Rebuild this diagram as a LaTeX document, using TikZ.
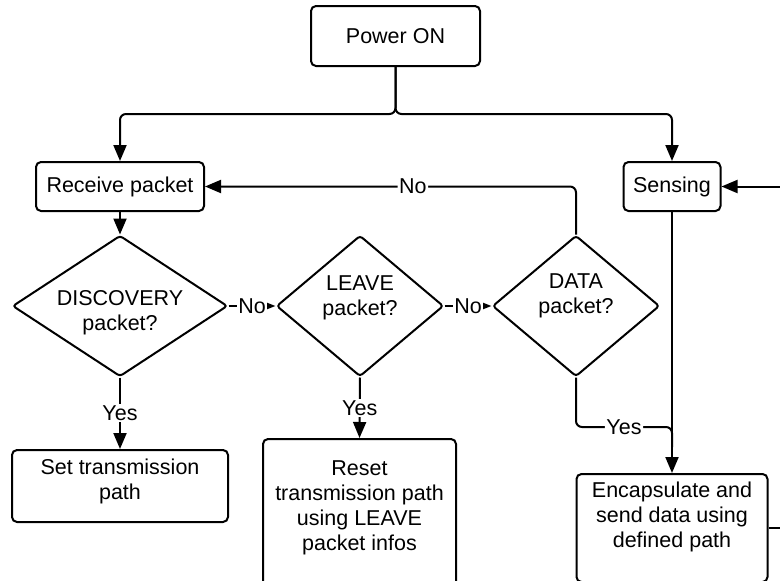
\documentclass[tikz,border=0pt]{standalone}
\usepackage{fontspec}
\setmainfont{Liberation Sans}
\usetikzlibrary{shapes.geometric,arrows.meta}
\begin{document}
\begin{tikzpicture}[x=1pt,y=-1pt,line width=2pt,
  font=\fontsize{21.5}{25}\selectfont,
  box/.style={draw,rectangle,rounded corners=5pt,align=center,inner sep=0pt},
  dec/.style={draw,diamond,rounded corners=3pt,align=center,inner sep=0pt},
  arr/.style={-{Triangle[width=13pt,length=16pt]}},
  sarr/.style={-{Triangle[width=8pt,length=11pt]}},
  lbl/.style={fill=white,inner sep=1.5pt},
  wire/.style={rounded corners=6pt}]
\clip (0,0) rectangle (780,581);
\useasboundingbox (0,0) rectangle (780,581);

% process boxes
\node[box,minimum width=169pt,minimum height=60pt] (pw) at (395.5,36) {Power ON};
\node[box,minimum width=168pt,minimum height=49pt] (rp) at (120,186.5) {Receive packet};
\node[box,minimum width=97pt,minimum height=49pt] (sn) at (672,186.5) {Sensing};
\node[box,minimum width=216pt,minimum height=72pt] (st) at (120,486)
  {Set transmission\\path\rule[-14.5pt]{0pt}{0pt}};
\node[box,minimum width=193pt,minimum height=166pt] (rs) at (359.5,522)
  {Reset\\transmission path\\using LEAVE\\packet infos\rule[-33.5pt]{0pt}{0pt}};
\node[box,minimum width=191pt,minimum height=108pt] (en) at (672,528)
  {Encapsulate and\\send data using\\defined path\rule[-26.5pt]{0pt}{0pt}};

% decisions
\node[dec,inner xsep=-10pt,aspect=1.53,minimum width=215pt,minimum height=141pt] (dc) at (120,306)
  {\rule{0pt}{29.4pt}DISCOVERY\\packet?};
\node[dec,aspect=1.18,minimum width=167pt,minimum height=141pt] (lv) at (360,306)
  {LEAVE\\packet?\rule[-20pt]{0pt}{0pt}};
\node[dec,aspect=1.18,minimum width=167pt,minimum height=141pt] (da) at (576,306)
  {DATA\\packet?\rule[-24pt]{0pt}{0pt}};

% helper points for branches and edge connectors
\coordinate (j) at (395.5,114);
\coordinate (rim) at (790,0);
\coordinate (m) at (672,427);
\coordinate (m2) at (672,447);

% connectors
\draw[arr,wire] (pw.south) -- (j) -| (rp.north);
\draw[arr,wire] (pw.south) -- (j) -| (sn.north);
\draw[arr] (rp.south) -- (dc.north);
\draw[sarr] (dc.east) -- node[lbl] {No} (lv.west);
\draw[sarr] (lv.east) -- node[lbl] {No} (da.west);
\draw[arr,wire] (da.north) |- node[lbl,pos=0.72] {No} (rp.east);
\draw[arr] (dc.south) -- node[lbl] {Yes} (st.north);
\draw[arr] (lv.south) -- node[lbl] {Yes} (rs.north);
\draw[wire] (da.south) |- node[lbl,pos=0.75] {Yes} (m) -- (m2);
\draw[arr] (sn.south) -- (en.north);
\draw[arr] (sn.east -| rim) -- (sn.east);
\draw (en.east) -- (en.east -| rim);
\end{tikzpicture}
\end{document}
